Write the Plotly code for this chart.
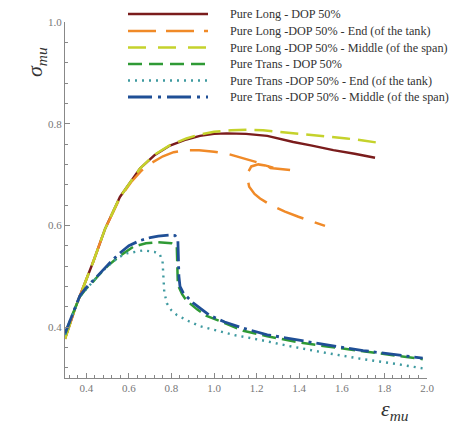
import plotly.graph_objects as go

# ---------------- data ----------------
long_x = [0.30, 0.35, 0.378, 0.433, 0.488, 0.558, 0.652, 0.72, 0.793, 0.87, 0.934, 1.0, 1.06, 1.15, 1.25, 1.372, 1.46, 1.56, 1.66, 1.756]
long_y = [0.377, 0.44, 0.47, 0.529, 0.593, 0.656, 0.712, 0.738, 0.757, 0.769, 0.776, 0.780, 0.781, 0.780, 0.776, 0.764, 0.757, 0.748, 0.741, 0.733]

long_end_x = [0.30, 0.35, 0.378, 0.433, 0.488, 0.558, 0.61, 0.66, 0.71, 0.76, 0.81, 0.87, 0.93, 1.0, 1.07, 1.137, 1.18, 1.216,
              1.245, 1.265, 1.30, 1.357, 1.29, 1.24, 1.208, 1.175, 1.16, 1.158, 1.165, 1.19, 1.216, 1.27, 1.333, 1.396, 1.46, 1.521]
long_end_y = [0.377, 0.44, 0.47, 0.529, 0.593, 0.654, 0.685, 0.708, 0.724, 0.736, 0.744, 0.748, 0.748, 0.745, 0.740, 0.732, 0.727, 0.722,
              0.719, 0.713, 0.711, 0.709, 0.712, 0.718, 0.720, 0.716, 0.705, 0.690, 0.676, 0.662, 0.653, 0.639, 0.627, 0.617, 0.607, 0.599]

long_mid_x = [0.30, 0.35, 0.378, 0.433, 0.488, 0.558, 0.652, 0.72, 0.793, 0.87, 0.934, 1.0, 1.08, 1.153, 1.23, 1.31, 1.39, 1.466, 1.545, 1.623, 1.70, 1.764]
long_mid_y = [0.377, 0.44, 0.47, 0.529, 0.593, 0.656, 0.712, 0.739, 0.758, 0.771, 0.779, 0.784, 0.787, 0.788, 0.787, 0.784, 0.781, 0.778, 0.775, 0.771, 0.767, 0.763]

trans_x = [0.30, 0.33, 0.37, 0.40, 0.425, 0.46, 0.50, 0.55, 0.621, 0.68, 0.738, 0.80, 0.825, 0.828, 0.83, 0.85, 0.871, 0.92, 0.965, 1.05, 1.137, 1.25, 1.40, 1.53, 1.70, 1.85, 1.98]
trans_y = [0.385, 0.42, 0.46, 0.476, 0.486, 0.503, 0.52, 0.538, 0.558, 0.565, 0.567, 0.565, 0.558, 0.52, 0.483, 0.465, 0.452, 0.435, 0.422, 0.408, 0.393, 0.382, 0.370, 0.362, 0.352, 0.344, 0.337]

trans_end_x = [0.30, 0.33, 0.37, 0.40, 0.425, 0.46, 0.50, 0.55, 0.59, 0.668, 0.72, 0.745, 0.758, 0.762, 0.766, 0.778, 0.80, 0.825, 0.88, 0.934, 1.0, 1.10, 1.216, 1.35, 1.53, 1.70, 1.85, 1.98]
trans_end_y = [0.385, 0.42, 0.46, 0.476, 0.487, 0.503, 0.52, 0.537, 0.545, 0.551, 0.548, 0.543, 0.530, 0.50, 0.47, 0.447, 0.433, 0.424, 0.412, 0.402, 0.395, 0.384, 0.375, 0.363, 0.349, 0.337, 0.328, 0.319]

trans_mid_x = [0.30, 0.33, 0.37, 0.40, 0.425, 0.449, 0.50, 0.55, 0.60, 0.65, 0.70, 0.738, 0.79, 0.817, 0.83, 0.832, 0.835, 0.84, 0.856, 0.90, 0.934, 0.98, 1.05, 1.137, 1.25, 1.40, 1.53, 1.70, 1.85, 1.98]
trans_mid_y = [0.388, 0.42, 0.462, 0.478, 0.488, 0.499, 0.522, 0.543, 0.560, 0.570, 0.576, 0.579, 0.581, 0.580, 0.572, 0.54, 0.50, 0.48, 0.467, 0.448, 0.437, 0.423, 0.410, 0.398, 0.385, 0.374, 0.365, 0.354, 0.346, 0.339]

series_names = [
    "Pure Long - DOP 50%",
    "Pure Long -DOP 50% - End (of the tank)",
    "Pure Long -DOP 50% - Middle (of the span)",
    "Pure Trans - DOP 50%",
    "Pure Trans -DOP 50% - End (of the tank)",
    "Pure Trans -DOP 50% - Middle (of the span)",
]

# ---------------- styles ----------------
styles = [
    dict(color="#7a1c1c", width=2.4, dash="solid"),
    dict(color="#f08a28", width=2.5, dash="28px,12px"),
    dict(color="#c5d22c", width=2.5, dash="18px,8px"),
    dict(color="#2f9a35", width=2.5, dash="14px,6px"),
    dict(color="#3f9aa0", width=2.4, dash="2px,5px"),
    dict(color="#1f4f96", width=2.8, dash="20px,5px,3px,5px"),
]
legend_dash = ["solid", "28px,10px", "18px,12px", "14px,7px", "2px,5px", "24px,6px,3px,6px"]

xs = [long_x, long_end_x, long_mid_x, trans_x, trans_end_x, trans_mid_x]
ys = [long_y, long_end_y, long_mid_y, trans_y, trans_end_y, trans_mid_y]

fig = go.Figure()
for name, x, y, st in zip(series_names, xs, ys, styles):
    fig.add_trace(go.Scatter(x=x, y=y, mode="lines", name=name, line=st, showlegend=False))

serif = "Liberation Serif, Times New Roman, serif"

axis_common = dict(
    showline=True, linecolor="#888", linewidth=1, mirror=False,
    ticks="inside", ticklen=5, tickcolor="#888", tickwidth=1,
    showgrid=False, zeroline=False,
    tickfont=dict(family=serif, size=11, color="#777"),
    dtick=0.2, tick0=0,
    minor=dict(ticks="inside", ticklen=3, tickcolor="#888", dtick=0.04, tick0=0, showgrid=False),
)

# plot area in pixels: x 65..427, y 22..378
PL, PR, PT, PB = 65, 427, 22, 378
def px_x(p):
    return (p - PL) / (PR - PL)
def px_y(p):
    return (PB - p) / (PB - PT)

shapes = []
annotations = []
legend_rows = [14, 31, 47.5, 64, 80.5, 97]
for name, st, dsh, row in zip(series_names, styles, legend_dash, legend_rows):
    shapes.append(dict(type="line", xref="paper", yref="paper",
                       x0=px_x(128), x1=px_x(208), y0=px_y(row), y1=px_y(row),
                       line=dict(color=st["color"], width=st["width"], dash=dsh)))
    annotations.append(dict(text=name, xref="paper", yref="paper",
                            x=px_x(228), y=px_y(row), xanchor="left", yanchor="middle",
                            showarrow=False, font=dict(family=serif, size=12.2, color="#333")))

annotations.append(dict(text="<i>σ<sub>mu</sub></i>", xref="paper", yref="paper",
                        x=px_x(36), y=px_y(62), xanchor="center", yanchor="middle",
                        showarrow=False, textangle=-90,
                        font=dict(family=serif, size=22, color="#333")))
annotations.append(dict(text="<i>ε<sub>mu</sub></i>", xref="paper", yref="paper",
                        x=px_x(395), y=px_y(410), xanchor="center", yanchor="middle",
                        showarrow=False,
                        font=dict(family=serif, size=22, color="#333")))

fig.update_layout(
    width=461, height=428,
    margin=dict(l=PL, r=461 - PR, t=PT, b=428 - PB),
    paper_bgcolor="white", plot_bgcolor="white",
    xaxis=dict(range=[0.3, 2.0], tickformat=".1f", **axis_common),
    yaxis=dict(range=[0.3, 1.0], tickformat=".1f", **axis_common),
    showlegend=False,
    shapes=shapes,
    annotations=annotations,
)

fig.write_html("out.html")
